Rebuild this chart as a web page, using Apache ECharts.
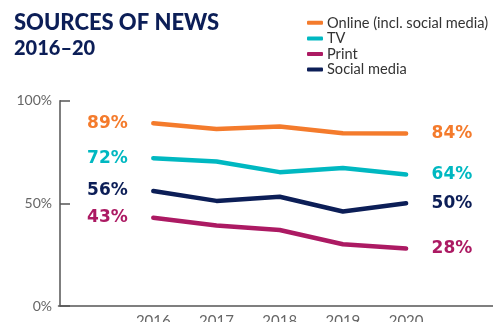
<!DOCTYPE html>
<html><head><meta charset="utf-8">
<script src="https://cdn.jsdelivr.net/npm/echarts@6/dist/echarts.min.js"></script>
<style>html,body{margin:0;padding:0;background:#fff;overflow:hidden}#c{width:493px;height:322px}</style>
</head><body><div id="c"></div>
<script>
const years = ['2016','2017','2018','2019','2020'];
const online = [89, 86.2, 87.4, 84.2, 84];
const tv = [72, 70.4, 65.2, 67.2, 64];
const print = [43, 39.2, 37, 30.1, 28];
const social = [56, 51.2, 53.2, 46, 50];
const seriesNames = ['Online (incl. social media)', 'TV', 'Print', 'Social media'];
const yTicks = [0, 50, 100];

const colors = ['#F47B2C', '#00B8C1', '#AC1A63', '#0C1E57'];
const categories = [' '].concat(years, ['  ']);
const FONT = 'Lato';

function mk(name, vals, color) {
  const last = vals.length - 1;
  return {
    name: name, type: 'line', color: color,
    symbol: 'circle', symbolSize: 1, showSymbol: true,
    lineStyle: { width: 4.5, color: color, cap: 'round', join: 'round' },
    itemStyle: { color: color },
    emphasis: { disabled: true },
    data: vals.map((v, i) => ({
      value: [years[i], v],
      label: {
        show: i === 0 || i === last,
        position: i === 0 ? 'left' : 'right',
        distance: 25,
        formatter: p => Math.round(p.value[1]) + '%',
        color: color, fontFamily: 'DejaVu Sans', fontWeight: 'bold', fontSize: 17
      }
    }))
  };
}

const chart = echarts.init(document.getElementById('c'), null, { renderer: 'canvas' });
chart.setOption({
  animation: false,
  backgroundColor: '#fff',
  title: {
    text: 'SOURCES OF NEWS', subtext: '2016–20',
    left: 9, top: 7, itemGap: 5,
    textStyle: { fontFamily: FONT, fontWeight: 900, fontSize: 22, color: '#0C1E57' },
    subtextStyle: { fontFamily: FONT, fontWeight: 900, fontSize: 20, color: '#0C1E57' }
  },
  legend: {
    orient: 'vertical', left: 302, top: 10, itemGap: 0,
    icon: 'roundRect', itemWidth: 16, itemHeight: 4,
    data: seriesNames,
    textStyle: { fontFamily: FONT, fontSize: 14.6, color: '#333', lineHeight: 15.6, padding: [0,0,0,-1] }
  },
  grid: { left: 58.5, right: -7.9, top: 100.7, bottom: 16, containLabel: false, outerBoundsMode: 'none' },
  xAxis: {
    type: 'category', data: categories, boundaryGap: true,
    axisLine: { lineStyle: { color: '#555', width: 1.5 } },
    axisTick: { inside: true, length: 5, alignWithLabel: true, lineStyle: { color: '#555', width: 1.5 },
      interval: (i, v) => v.trim() !== '' },
    axisLabel: { color: '#666', fontFamily: FONT, fontSize: 15, margin: 8, interval: 0 },
    splitLine: { show: false }
  },
  yAxis: {
    type: 'value', min: 0, max: 100, interval: 50, offset: -1.5,
    axisLine: { show: true, lineStyle: { color: '#555', width: 1.5 } },
    axisTick: { show: true, inside: true, length: 10, lineStyle: { color: '#555', width: 1.5 },
      customValues: yTicks },
    axisLabel: { color: '#666', fontFamily: FONT, fontSize: 14, margin: 8, formatter: '{value}%',
      customValues: yTicks, padding: [6,0,0,0] },
    splitLine: { show: false }
  },
  series: [
    mk(seriesNames[0], online, colors[0]),
    mk(seriesNames[1], tv, colors[1]),
    mk(seriesNames[2], print, colors[2]),
    mk(seriesNames[3], social, colors[3])
  ]
});
</script></body></html>
